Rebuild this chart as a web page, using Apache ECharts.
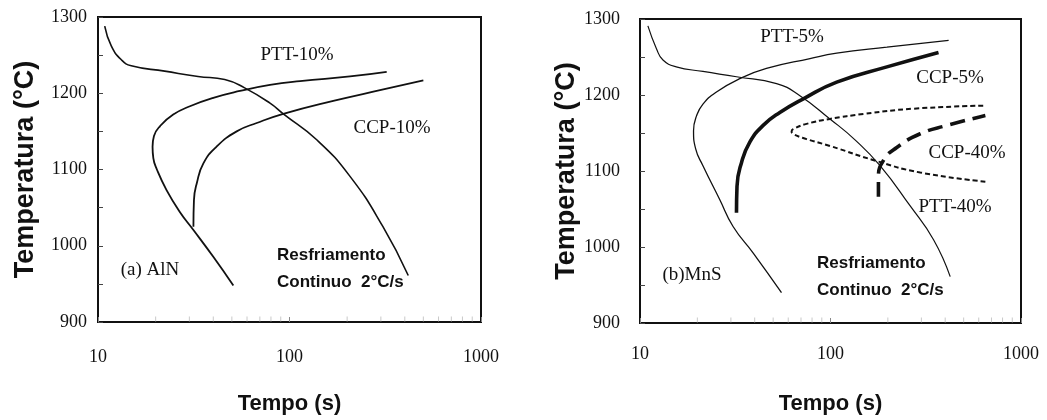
<!DOCTYPE html>
<html>
<head>
<meta charset="utf-8">
<script src="https://cdn.jsdelivr.net/npm/echarts@6/dist/echarts.min.js"></script>
<style>
  html, body { margin: 0; padding: 0; background: #fff; }
  #chart { width: 1047px; height: 420px; }
</style>
</head>
<body>
<div id="chart"></div>
<script>
// ---- (a) AlN: time (s) and temperature (°C) along each curve ----
const coolA_t = [10.84, 11.73, 13.23, 14.92, 22.3, 33.3, 45.9, 58.3, 79.1, 92.8, 138.7, 207, 307.6, 417];
const coolA_T = [1288, 1262, 1244, 1236, 1229, 1222, 1218, 1207, 1187, 1173, 1139, 1091, 1025, 961];

const pttA_t = [50.9, 40.0, 31.5, 26.8, 22.8, 20.3, 19.45, 19.27, 19.6, 21.1, 24.7, 30.2, 40.0, 55.1, 79.1, 113.5, 207, 321.8];
const pttA_T = [948, 985.5, 1020.7, 1044, 1073, 1100, 1115, 1130, 1144, 1157, 1172, 1183, 1194, 1203, 1211, 1216, 1222, 1228];

const ccpA_t = [31.5, 31.7, 32.8, 35.5, 41.6, 53, 67.4, 92.8, 169.3, 309, 500];
const ccpA_T = [1025, 1060, 1082, 1108, 1130, 1150, 1161, 1173, 1190, 1205, 1217];

// ---- (b) MnS ----
const coolB_t = [11.0, 12.2, 13.2, 15.5, 21.4, 32.1, 52.1, 69.1, 99.3, 134.5, 182, 262, 347.5, 425];
const coolB_T = [1291, 1261, 1246, 1237, 1231, 1224, 1215, 1199, 1168.5, 1141, 1107, 1054, 1009.5, 961];

const ptt5_t = [55.3, 39.3, 30.8, 26.2, 21.4, 19.6, 19.1, 19.8, 21.4, 25.2, 33.4, 46.1, 78, 107.8, 197.7, 417];
const ptt5_T = [940, 992, 1027, 1062.5, 1107, 1129, 1153, 1172.5, 1188, 1204, 1221.5, 1235, 1248, 1255, 1263, 1272];

const ccp5_t = [32.1, 32.3, 34.1, 37.7, 44.3, 54.2, 72, 107.8, 197.7, 369];
const ccp5_T = [1045, 1080, 1111, 1138, 1160, 1177, 1195, 1217, 1237, 1256];

const ptt40_t = [650, 295.8, 175, 99.3, 74.9, 63.7, 62.5, 63.7, 74.9, 99.3, 148.8, 273, 650];
const ptt40_T = [1086, 1098, 1113, 1133, 1142, 1148.6, 1152, 1155, 1162, 1168.5, 1175, 1182, 1186];

const ccp40_t = [178.5, 178.5, 189.7, 222.8, 295.8, 409, 650];
const ccp40_T = [1066, 1091, 1114, 1131, 1149, 1160, 1173];

// ---- axes ----
const xTickLabels = [10, 100, 1000];
const xMinorTicks = [20, 30, 40, 50, 60, 70, 80, 90, 200, 300, 400, 500, 600, 700, 800, 900];
const yRange = [900, 1300];

const SERIF = '"Liberation Serif", "Times New Roman", serif';
const SANS = '"Liberation Sans", Arial, sans-serif';

function zip(ts, Ts) { return ts.map((t, i) => [t, Ts[i]]); }

function xAxis(idx, labelMargin, nameGap) {
  return {
    type: 'log', logBase: 10, gridIndex: idx, min: 10, max: 1000,
    axisLine: { show: false },
    axisTick: { show: true, inside: true, length: 5, lineStyle: { color: '#888' } },
    splitLine: { show: false },
    axisLabel: {
      fontFamily: SERIF, fontSize: 18, color: '#111', margin: labelMargin,
      formatter: v => xTickLabels.includes(Math.round(v)) ? String(Math.round(v)) : ''
    },
    name: 'Tempo (s)', nameLocation: 'middle', nameGap: nameGap,
    nameTextStyle: { fontFamily: SANS, fontWeight: 'bold', fontSize: 22, color: '#111' }
  };
}

function yAxis(idx, labelMargin, nameGap) {
  return {
    type: 'value', gridIndex: idx, min: yRange[0], max: yRange[1], interval: 50,
    axisLine: { show: false },
    axisTick: { show: true, inside: true, length: 5, lineStyle: { color: '#444' } },
    splitLine: { show: false },
    axisLabel: {
      fontFamily: SERIF, fontSize: 18, color: '#111', margin: labelMargin,
      formatter: v => (v % 100 === 0 ? String(v) : '')
    },
    name: 'Temperatura (°C)', nameLocation: 'middle', nameGap: nameGap, nameRotate: 90,
    nameTextStyle: { fontFamily: SANS, fontWeight: 'bold', fontSize: 27, color: '#111' }
  };
}

function curve(name, idx, data, width, dash) {
  return {
    name, type: 'line', xAxisIndex: idx, yAxisIndex: idx, data,
    smooth: 0.5, symbol: 'none', silent: true,
    lineStyle: { color: '#111', width, type: dash || 'solid', cap: 'butt' }
  };
}

function minorTicks(idx) {
  return {
    type: 'scatter', xAxisIndex: idx, yAxisIndex: idx, silent: true,
    data: xMinorTicks.map(t => [t, yRange[0]]),
    symbol: 'rect', symbolSize: [1, 5], symbolOffset: [0, -3],
    itemStyle: { color: '#bbb' }, clip: false
  };
}

function label(text, x, y, font, size, weight, align) {
  return {
    type: 'text', x, y,
    style: {
      text, fill: '#111', font: `${weight || 'normal'} ${size}px ${font}`,
      textAlign: align || 'center', textVerticalAlign: 'middle'
    }
  };
}

const chart = echarts.init(document.getElementById('chart'), null, { renderer: 'canvas' });
chart.setOption({
  animation: false,
  backgroundColor: '#fff',
  grid: [
    { left: 98, top: 17, width: 383, height: 305, show: true, borderColor: '#111', borderWidth: 2, backgroundColor: 'transparent' },
    { left: 640, top: 19, width: 381, height: 304, show: true, borderColor: '#111', borderWidth: 2, backgroundColor: 'transparent' }
  ],
  xAxis: [xAxis(0, 26, 71), xAxis(1, 22, 70)],
  yAxis: [yAxis(0, 11, 59), yAxis(1, 20, 56)],
  series: [
    curve('Resfriamento (a)', 0, zip(coolA_t, coolA_T), 1.6),
    curve('PTT-10%', 0, zip(pttA_t, pttA_T), 1.8),
    curve('CCP-10%', 0, zip(ccpA_t, ccpA_T), 1.8),
    curve('Resfriamento (b)', 1, zip(coolB_t, coolB_T), 1.2),
    curve('PTT-5%', 1, zip(ptt5_t, ptt5_T), 1.3),
    curve('CCP-5%', 1, zip(ccp5_t, ccp5_T), 3.6),
    curve('PTT-40%', 1, zip(ptt40_t, ptt40_T), 2, [5, 3]),
    curve('CCP-40%', 1, zip(ccp40_t, ccp40_T), 3.6, [15, 8]),
    minorTicks(0),
    minorTicks(1)
  ],
  graphic: [
    label('PTT-10%', 297, 55, SERIF, 19),
    label('CCP-10%', 392, 128, SERIF, 19),
    label('(a) AlN', 150, 270, SERIF, 19),
    label('Resfriamento', 277, 255, SANS, 17, 'bold', 'left'),
    label('Continuo  2°C/s', 277, 282, SANS, 17, 'bold', 'left'),
    label('PTT-5%', 792, 37, SERIF, 19),
    label('CCP-5%', 950, 78, SERIF, 19),
    label('CCP-40%', 967, 153, SERIF, 19),
    label('PTT-40%', 955, 207, SERIF, 19),
    label('(b)MnS', 692, 275, SERIF, 19),
    label('Resfriamento', 817, 263, SANS, 17, 'bold', 'left'),
    label('Continuo  2°C/s', 817, 290, SANS, 17, 'bold', 'left')
  ]
});
</script>
</body>
</html>
